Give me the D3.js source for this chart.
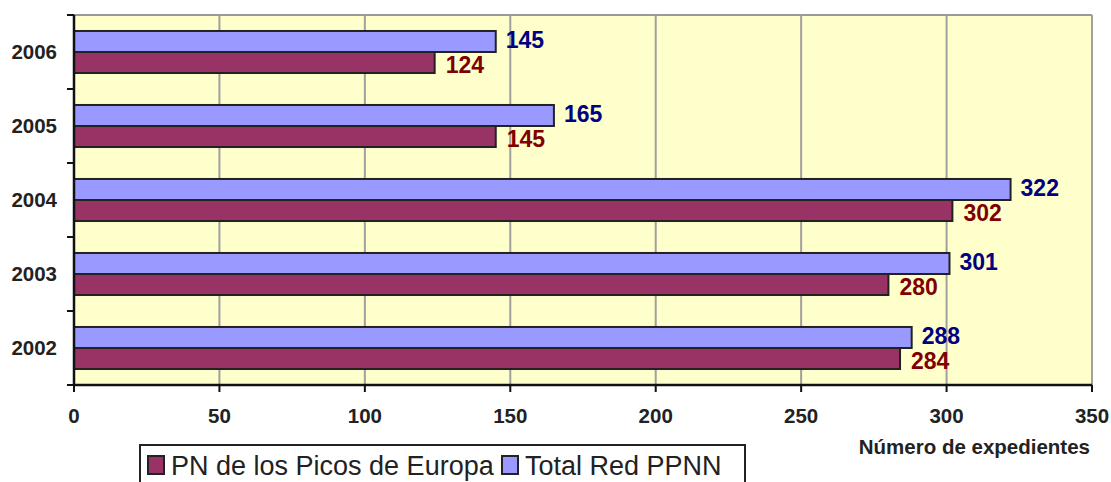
<!DOCTYPE html>
<html><head><meta charset="utf-8">
<script src="https://cdn.jsdelivr.net/npm/d3@7"></script>
<style>body{margin:0;background:#fff;}svg{display:block;font-family:Arial,"Liberation Sans",sans-serif;}</style>
</head><body><svg id="c" width="1111" height="482"></svg>
<script>
const years = ["2006","2005","2004","2003","2002"];
const picos = [124,145,302,280,284];
const total = [145,165,322,301,288];
const xTicks = [0,50,100,150,200,250,300,350];
const seriesNames = ["PN de los Picos de Europa","Total Red PPNN"];
const colors = ["#993366","#9999FF"];
const labelColors = ["#800000","#000080"];

const svg = d3.select("#c");
const L=74, R=1092, T=15, B=385;
const x = d3.scaleLinear().domain([0,350]).range([L,R]);
const y = d3.scaleBand().domain(years).range([T,B]).paddingInner(0.432).paddingOuter(0.216);
const sub = d3.scaleBand().domain([1,0]).range([0,y.bandwidth()]);

svg.append("rect").attr("x",L).attr("y",T).attr("width",R-L).attr("height",B-T).attr("fill","#FFFFCC");
svg.append("line").attr("x1",L).attr("x2",R).attr("y1",T).attr("y2",T).attr("stroke","#999").attr("stroke-width",2);
svg.append("g").selectAll("line").data(xTicks.slice(1)).join("line")
  .attr("x1",d=>x(d)).attr("x2",d=>x(d)).attr("y1",T).attr("y2",B)
  .attr("stroke","#A0A0A0").attr("stroke-width",2);

const data = years.map((yr,i)=>({yr, vals:[picos[i], total[i]]}));
const g = svg.append("g");
data.forEach(d=>{
  [1,0].forEach(s=>{
    const v=d.vals[s];
    const yy=y(d.yr)+sub(s);
    g.append("rect").attr("x",x(0)).attr("y",yy).attr("width",x(v)-x(0)).attr("height",sub.bandwidth())
      .attr("fill",colors[s]).attr("stroke","#222").attr("stroke-width",2);
    g.append("text").attr("x",x(v)+(s===0?11:10)).attr("y",yy+sub.bandwidth()/2+(s===0?2:-2)).attr("dy","0.36em")
      .attr("fill",labelColors[s]).attr("font-weight","bold").attr("font-size",23).text(v);
  });
});

// left axis
const ya = svg.append("g");
ya.append("line").attr("x1",L).attr("x2",L).attr("y1",T).attr("y2",B).attr("stroke","#111").attr("stroke-width",2.5);
const step = (B-T)/years.length;
ya.selectAll("line.t").data(d3.range(years.length+1)).join("line").attr("class","t")
  .attr("x1",L-7).attr("x2",L).attr("y1",d=>T+d*step).attr("y2",d=>T+d*step).attr("stroke","#111").attr("stroke-width",2);
ya.selectAll("text").data(years).join("text").attr("x",57).attr("y",d=>y(d)+y.bandwidth()/2).attr("dy","0.36em")
  .attr("text-anchor","end").attr("font-weight","bold").attr("font-size",20.5).attr("fill","#222").text(d=>d);

// bottom axis
const xa = svg.append("g");
xa.append("line").attr("x1",L).attr("x2",R).attr("y1",B).attr("y2",B).attr("stroke","#111").attr("stroke-width",2.5);
xa.selectAll("line.t").data(xTicks).join("line").attr("class","t")
  .attr("x1",d=>x(d)).attr("x2",d=>x(d)).attr("y1",B).attr("y2",B+7).attr("stroke","#111").attr("stroke-width",2);
xa.selectAll("text").data(xTicks).join("text").attr("x",d=>x(d)).attr("y",423).attr("text-anchor","middle")
  .attr("font-weight","bold").attr("font-size",20.5).attr("fill","#222").text(d=>d);
svg.append("text").attr("x",1090).attr("y",454).attr("text-anchor","end").attr("font-weight","bold")
  .attr("font-size",20.5).attr("fill","#222").text("Número de expedientes");

// legend
const lg = svg.append("g");
lg.append("rect").attr("x",140).attr("y",445).attr("width",605).attr("height",45).attr("fill","#fff").attr("stroke","#222").attr("stroke-width",2);
const items=[{n:seriesNames[0],c:colors[0],x:148},{n:seriesNames[1],c:colors[1],x:502}];
items.forEach(it=>{
  lg.append("rect").attr("x",it.x).attr("y",456).attr("width",16).attr("height",18).attr("fill",it.c).attr("stroke","#222").attr("stroke-width",2);
  lg.append("text").attr("x",it.x+23).attr("y",475).attr("font-size",27).attr("fill","#222").text(it.n);
});
</script></body></html>
